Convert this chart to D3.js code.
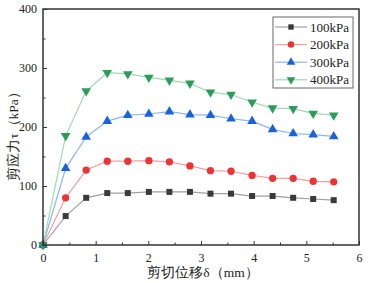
<!DOCTYPE html>
<html>
<head>
<meta charset="utf-8">
<script src="https://cdn.jsdelivr.net/npm/d3@7"></script>
<style>
  body { margin: 0; background: #fff; }
  svg { display: block; }
</style>
</head>
<body>
<svg id="chart" width="382" height="283"></svg>
<script>
// Shear displacement (mm) vs shear stress (kPa) at four normal loads
const displacement = [0, 0.43, 0.82, 1.22, 1.61, 2.01, 2.40, 2.79, 3.18, 3.57, 3.97, 4.36, 4.75, 5.13, 5.52];
const stress100 = [0, 49, 80, 88, 88, 90, 90, 90, 87, 87, 83, 83, 80, 78, 76];
const stress200 = [0, 80, 127, 142, 142, 143, 141, 134, 126, 125, 118, 113, 113, 108, 107];
const stress300 = [0, 130, 183, 210, 220, 222, 226, 221, 220, 214, 210, 196, 189, 187, 184];
const stress400 = [0, 185, 261, 292, 290, 284, 279, 274, 259, 255, 242, 232, 231, 223, 220];
const seriesNames = ['100kPa', '200kPa', '300kPa', '400kPa'];
const xTicks = [0, 1, 2, 3, 4, 5, 6];
const yTicks = [0, 100, 200, 300, 400];

const series = [
    { name: seriesNames[0], values: stress100, line: '#a0a0a0', fill: '#3a3a3a', symbol: d3.symbolSquare, size: 36 },
    { name: seriesNames[1], values: stress200, line: '#f5a0a0', fill: '#ee3333', symbol: d3.symbolCircle, size: 42 },
    { name: seriesNames[2], values: stress300, line: '#8db5f2', fill: '#1a62dc', symbol: d3.symbolTriangle, size: 40, rot: 0 },
    { name: seriesNames[3], values: stress400, line: '#9fd9b4', fill: '#2a9e58', symbol: d3.symbolTriangle, size: 40, rot: 180 }
];

const svg = d3.select('#chart');
const margin = { left: 43, top: 9, right: 23, bottom: 38 };
const width = 382 - margin.left - margin.right;
const height = 283 - margin.top - margin.bottom;
const font = "Liberation Serif, Times New Roman, Times, serif";

const x = d3.scaleLinear().domain([0, 6]).range([0, width]);
const y = d3.scaleLinear().domain([0, 400]).range([height, 0]);

const g = svg.append('g').attr('transform', `translate(${margin.left},${margin.top})`);

// Lines and markers
const line = d3.line()
    .x((d, i) => x(displacement[i]))
    .y(d => y(d));

series.forEach(s => {
    g.append('path')
        .datum(s.values)
        .attr('fill', 'none')
        .attr('stroke', s.line)
        .attr('stroke-width', 1.2)
        .attr('d', line);
});

series.forEach(s => {
    g.selectAll(null)
        .data(s.values)
        .enter()
        .append('path')
        .attr('d', d3.symbol().type(s.symbol).size(s.size))
        .attr('transform', (d, i) => `translate(${x(displacement[i])},${y(d)}) rotate(${s.rot || 0})`)
        .attr('fill', s.fill);
});

// Axes (ticks pointing inward)
const xAxis = g.append('g')
    .attr('transform', `translate(0,${height})`)
    .call(d3.axisBottom(x).tickValues(xTicks).tickFormat(d3.format('d')).tickSizeInner(-4).tickSizeOuter(0).tickPadding(8));
const xMinor = g.append('g')
    .attr('transform', `translate(0,${height})`)
    .call(d3.axisBottom(x).tickValues(d3.range(0.5, 6, 1)).tickFormat('').tickSizeInner(-2.5).tickSizeOuter(0));
const yAxis = g.append('g')
    .call(d3.axisLeft(y).tickValues(yTicks).tickFormat(d3.format('d')).tickSizeInner(-4).tickSizeOuter(0).tickPadding(6));
const yMinor = g.append('g')
    .call(d3.axisLeft(y).tickValues(d3.range(50, 400, 100)).tickFormat('').tickSizeInner(-2.5).tickSizeOuter(0));

[xAxis, xMinor, yAxis, yMinor].forEach(a => {
    a.select('.domain').remove();
    a.attr('font-family', null).attr('font-size', null);
    a.selectAll('line').attr('stroke', '#333').attr('stroke-width', 1);
    a.selectAll('text').style('font-family', font).style('font-size', '12px').attr('fill', '#222');
});

// Frame
g.append('rect')
    .attr('width', width)
    .attr('height', height)
    .attr('fill', 'none')
    .attr('stroke', '#333')
    .attr('stroke-width', 1.5);

// Axis titles
svg.append('text')
    .attr('x', margin.left + x(3) + 2)
    .attr('y', 277)
    .attr('text-anchor', 'middle')
    .style('font-family', font)
    .style('font-size', '13.5px')
    .attr('fill', '#222')
    .text('剪切位移δ（mm）');

svg.append('text')
    .attr('transform', `translate(18,${margin.top + y(200) + 6}) rotate(-90)`)
    .attr('text-anchor', 'middle')
    .style('font-family', font)
    .style('font-size', '13.5px')
    .attr('fill', '#222')
    .text('剪应力τ（kPa）');

// Legend
const legend = svg.append('g').attr('transform', 'translate(273,17)');
legend.append('rect')
    .attr('width', 80)
    .attr('height', 71)
    .attr('fill', '#fff')
    .attr('stroke', '#666')
    .attr('stroke-width', 1);

const items = legend.selectAll('.legend-item')
    .data(series)
    .enter()
    .append('g')
    .attr('class', 'legend-item')
    .attr('transform', (d, i) => `translate(0,${10 + i * 17.6})`);

items.append('line')
    .attr('x1', 2).attr('x2', 34)
    .attr('stroke', d => d.line)
    .attr('stroke-width', 1.2);
items.append('path')
    .attr('d', d => d3.symbol().type(d.symbol).size(d.size * 0.8)())
    .attr('transform', d => `translate(18,0) rotate(${d.rot || 0})`)
    .attr('fill', d => d.fill);
items.append('text')
    .attr('x', 37)
    .attr('y', 4.5)
    .style('font-family', font)
    .style('font-size', '13px')
    .attr('fill', '#222')
    .text(d => d.name);
</script>
</body>
</html>
